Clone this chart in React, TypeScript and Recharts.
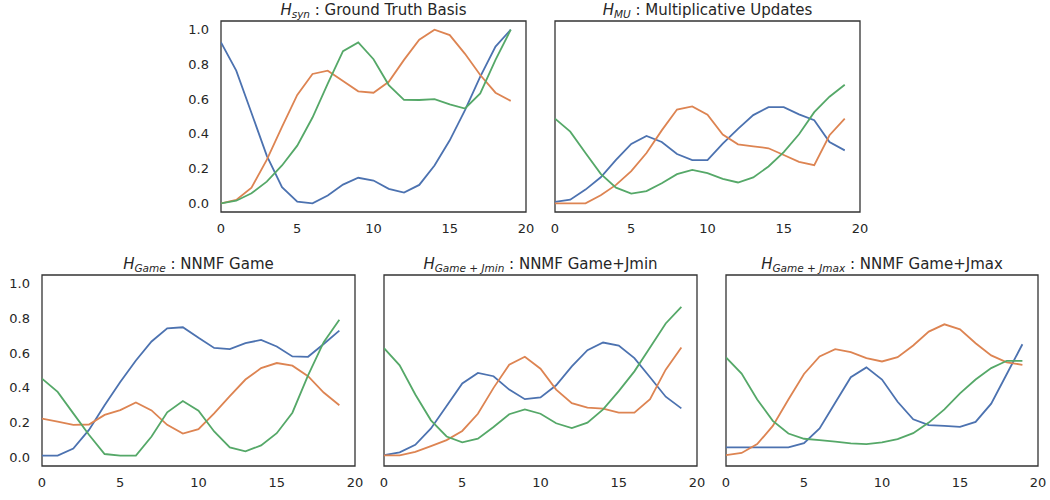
import React from 'react';
import { LineChart, Line, XAxis, YAxis, ReferenceArea } from 'recharts';

const steps = [0, 1, 2, 3, 4, 5, 6, 7, 8, 9, 10, 11, 12, 13, 14, 15, 16, 17, 18, 19];
const xTicks = [0, 5, 10, 15, 20];
const yTicks = [0, 0.2, 0.4, 0.6, 0.8, 1.0];

// H_syn : ground truth
const synBlue = [0.927, 0.764, 0.52, 0.275, 0.093, 0.01, 0.0, 0.045, 0.108, 0.147, 0.131, 0.083, 0.062, 0.106, 0.218, 0.363, 0.537, 0.73, 0.903, 1.0];
const synOrange = [0.0, 0.02, 0.09, 0.25, 0.44, 0.624, 0.745, 0.764, 0.705, 0.645, 0.637, 0.7, 0.826, 0.942, 1.0, 0.969, 0.861, 0.739, 0.637, 0.59];
const synGreen = [0.0, 0.015, 0.058, 0.125, 0.218, 0.332, 0.494, 0.69, 0.876, 0.927, 0.83, 0.681, 0.596, 0.595, 0.6, 0.57, 0.546, 0.633, 0.826, 1.0];

// H_MU : multiplicative updates
const muBlue = [0.008, 0.021, 0.079, 0.15, 0.25, 0.342, 0.388, 0.353, 0.284, 0.249, 0.249, 0.344, 0.429, 0.508, 0.554, 0.554, 0.512, 0.479, 0.353, 0.305];
const muOrange = [0.0, 0.0, 0.0, 0.046, 0.106, 0.185, 0.29, 0.42, 0.54, 0.558, 0.51, 0.396, 0.34, 0.328, 0.317, 0.278, 0.239, 0.22, 0.392, 0.488];
const muGreen = [0.488, 0.413, 0.29, 0.17, 0.09, 0.056, 0.07, 0.116, 0.168, 0.193, 0.174, 0.141, 0.12, 0.149, 0.212, 0.295, 0.398, 0.525, 0.614, 0.683];

// H_Game
const gameBlue = [0.01, 0.01, 0.05, 0.158, 0.3, 0.434, 0.558, 0.667, 0.743, 0.749, 0.688, 0.63, 0.623, 0.657, 0.676, 0.638, 0.581, 0.579, 0.653, 0.73];
const gameOrange = [0.223, 0.206, 0.187, 0.189, 0.244, 0.272, 0.316, 0.27, 0.187, 0.137, 0.162, 0.253, 0.352, 0.448, 0.514, 0.543, 0.528, 0.467, 0.373, 0.3];
const gameGreen = [0.453, 0.377, 0.253, 0.13, 0.019, 0.01, 0.01, 0.12, 0.259, 0.324, 0.269, 0.149, 0.057, 0.034, 0.069, 0.139, 0.257, 0.472, 0.663, 0.792];

// H_Game+Jmin
const jminBlue = [0.013, 0.029, 0.072, 0.166, 0.295, 0.425, 0.486, 0.467, 0.39, 0.335, 0.345, 0.415, 0.524, 0.617, 0.661, 0.644, 0.571, 0.461, 0.349, 0.282];
const jminOrange = [0.011, 0.011, 0.032, 0.065, 0.099, 0.152, 0.251, 0.4, 0.533, 0.579, 0.51, 0.39, 0.312, 0.286, 0.28, 0.257, 0.257, 0.335, 0.505, 0.632];
const jminGreen = [0.629, 0.53, 0.362, 0.213, 0.12, 0.086, 0.107, 0.175, 0.248, 0.276, 0.251, 0.196, 0.168, 0.2, 0.276, 0.381, 0.495, 0.632, 0.771, 0.867];

// H_Game+Jmax
const jmaxBlue = [0.057, 0.057, 0.057, 0.057, 0.057, 0.082, 0.166, 0.314, 0.461, 0.518, 0.448, 0.32, 0.219, 0.185, 0.181, 0.175, 0.204, 0.309, 0.48, 0.651];
const jmaxOrange = [0.013, 0.025, 0.076, 0.181, 0.333, 0.48, 0.581, 0.623, 0.606, 0.571, 0.552, 0.577, 0.644, 0.724, 0.766, 0.737, 0.657, 0.587, 0.547, 0.533];
const jmaxGreen = [0.575, 0.482, 0.333, 0.21, 0.137, 0.107, 0.099, 0.09, 0.08, 0.076, 0.086, 0.105, 0.139, 0.2, 0.276, 0.368, 0.448, 0.514, 0.556, 0.556];

const BLUE = '#4c72b0';
const ORANGE = '#dd8452';
const GREEN = '#55a868';
const INK = '#262626';
const FONT = '"DejaVu Sans", sans-serif';

const rows = (b: number[], o: number[], g: number[]) =>
  steps.map((x, i) => ({ x, b: b[i], o: o[i], g: g[i] }));

type PanelProps = {
  left: number;
  top: number;
  w: number;
  h: number;
  showY: boolean;
  sub: React.ReactNode;
  label: string;
  data: { x: number; b: number; o: number; g: number }[];
};

function Panel({ left, top, w, h, showY, sub, label, data }: PanelProps) {
  const tick = { fill: INK, fontSize: 13, fontFamily: FONT };
  return (
    <>
      <div
        style={{
          position: 'absolute',
          left: left - 20,
          top: top - 22,
          width: w + 40,
          height: 22,
          lineHeight: '22px',
          textAlign: 'center',
          fontFamily: FONT,
          fontSize: 15,
          color: INK,
          whiteSpace: 'nowrap',
        }}
      >
        <i>H</i>
        <sub style={{ fontSize: 10.5, fontStyle: 'italic', verticalAlign: '-3px' }}>{sub}</sub> : {label}
      </div>
      <div style={{ position: 'absolute', left: left - 50, top: top - 30 }}>
        <LineChart
          width={w + 60}
          height={h + 60}
          data={data}
          margin={{ top: 30, right: 10, bottom: 0, left: 0 }}
        >
          <XAxis
            dataKey="x"
            type="number"
            domain={[0, 20]}
            ticks={xTicks}
            allowDataOverflow
            height={30}
            tickLine={false}
            axisLine={false}
            tickSize={0}
            tickMargin={12}
            tick={tick}
          />
          <YAxis
            type="number"
            domain={[-0.05, 1.05]}
            ticks={yTicks}
            allowDataOverflow
            width={50}
            tickLine={false}
            axisLine={false}
            tickSize={0}
            tickMargin={12}
            tick={showY ? tick : false}
            tickFormatter={(v: number) => v.toFixed(1)}
          />
          <Line dataKey="b" stroke={BLUE} strokeWidth={1.8} dot={false} isAnimationActive={false} />
          <Line dataKey="o" stroke={ORANGE} strokeWidth={1.8} dot={false} isAnimationActive={false} />
          <Line dataKey="g" stroke={GREEN} strokeWidth={1.8} dot={false} isAnimationActive={false} />
          <ReferenceArea
            x1={0}
            x2={20}
            y1={-0.05}
            y2={1.05}
            fill="none"
            fillOpacity={0}
            stroke="#333333"
            strokeWidth={1.3}
            ifOverflow="visible"
          />
        </LineChart>
      </div>
    </>
  );
}

export default function App() {
  return (
    <div
      style={{
        position: 'absolute',
        left: 0,
        top: 0,
        width: 1050,
        height: 500,
        background: '#ffffff',
        overflow: 'hidden',
      }}
    >
      <Panel left={221} top={21} w={305} h={191} showY sub="syn" label="Ground Truth Basis" data={rows(synBlue, synOrange, synGreen)} />
      <Panel left={555} top={21} w={305} h={191} showY={false} sub="MU" label="Multiplicative Updates" data={rows(muBlue, muOrange, muGreen)} />
      <Panel left={42} top={275} w={313} h={191} showY sub="Game" label="NNMF Game" data={rows(gameBlue, gameOrange, gameGreen)} />
      <Panel
        left={384}
        top={275}
        w={313}
        h={191}
        showY={false}
        sub={<>Game<span style={{ fontStyle: 'normal' }}> + </span>Jmin</>}
        label="NNMF Game+Jmin"
        data={rows(jminBlue, jminOrange, jminGreen)}
      />
      <Panel
        left={726}
        top={275}
        w={312}
        h={191}
        showY={false}
        sub={<>Game<span style={{ fontStyle: 'normal' }}> + </span>Jmax</>}
        label="NNMF Game+Jmax"
        data={rows(jmaxBlue, jmaxOrange, jmaxGreen)}
      />
    </div>
  );
}
